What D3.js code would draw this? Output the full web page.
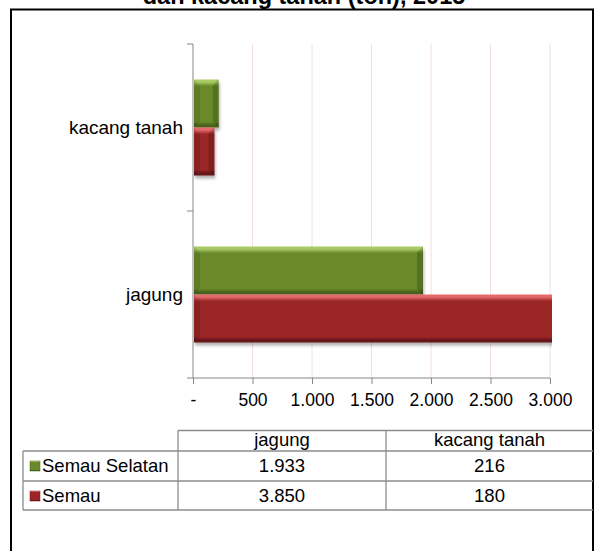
<!DOCTYPE html>
<html>
<head>
<meta charset="utf-8">
<script src="https://cdn.jsdelivr.net/npm/d3@7"></script>
<style>
  body { margin: 0; background: #fff; }
  text { font-family: "Liberation Sans", Arial, sans-serif; fill: #000; }
</style>
</head>
<body>
<div class="container"></div>
<script>
// ----- DATA -----
const categories = ["kacang tanah", "jagung"];      // top to bottom
const seriesNames = ["Semau Selatan", "Semau"];
const semauSelatan = [216, 1933];                   // per category above
const semau = [180, 3850];
const xTicks = [0, 500, 1000, 1500, 2000, 2500, 3000];
const tableCols = ["jagung", "kacang tanah"];
const title = "dan kacang tanah (ton), 2015";

const w = 598, h = 551;
const plot = { left: 193, right: 550, top: 44, bottom: 378 };

const svg = d3.select(".container").append("svg")
  .attr("width", w).attr("height", h);

const defs = svg.append("defs");

// bevel-ish gradients for the bars
const colors = {
  "Semau Selatan": { hi: "#a9cb66", mid: "#6b8a2c", lo: "#48621b" },
  "Semau": { hi: "#e46a6a", mid: "#9b2628", lo: "#661618" }
};
seriesNames.forEach((s, i) => {
  const c = colors[s];
  const g = defs.append("linearGradient").attr("id", "grad" + i)
    .attr("x1", 0).attr("y1", 0).attr("x2", 0).attr("y2", 1);
  g.append("stop").attr("offset", "0%").attr("stop-color", c.hi);
  g.append("stop").attr("offset", "5%").attr("stop-color", c.hi);
  g.append("stop").attr("offset", "14%").attr("stop-color", c.mid);
  g.append("stop").attr("offset", "88%").attr("stop-color", c.mid);
  g.append("stop").attr("offset", "95%").attr("stop-color", c.lo);
  g.append("stop").attr("offset", "100%").attr("stop-color", c.lo);
});

const shadow = defs.append("filter").attr("id", "shadow")
  .attr("x", "-10%").attr("y", "-10%").attr("width", "130%").attr("height", "140%");
shadow.append("feDropShadow").attr("dx", 1).attr("dy", 3).attr("stdDeviation", 1.5)
  .attr("flood-color", "#000").attr("flood-opacity", 0.3);

defs.append("clipPath").attr("id", "plotclip").append("rect")
  .attr("x", plot.left).attr("y", plot.top - 5)
  .attr("width", plot.right - plot.left + 2).attr("height", plot.bottom - plot.top + 10);

// ----- TITLE (cut at top, like the reference) -----
svg.append("text").attr("x", 304).attr("y", 4)
  .attr("text-anchor", "middle")
  .style("font-weight", "bold").style("font-size", "23.5px")
  .text(title);

// ----- OUTER FRAME -----
svg.append("rect").attr("x", 11).attr("y", 9.5)
  .attr("width", 582).attr("height", 600)
  .attr("fill", "none").attr("stroke", "#000").attr("stroke-width", 2);

// ----- SCALES -----
const xScale = d3.scaleLinear().domain([0, 3000]).range([plot.left, plot.right]);
const yScale = d3.scaleBand().domain(categories).range([plot.top, plot.bottom])
  .paddingInner(0.425).paddingOuter(0.2125);
const ySub = d3.scaleBand().domain(seriesNames).range([0, yScale.bandwidth()]);

// ----- GRID -----
svg.append("g").selectAll("line").data(xTicks.slice(1)).enter().append("line")
  .attr("x1", d => xScale(d)).attr("x2", d => xScale(d))
  .attr("y1", plot.top).attr("y2", plot.bottom)
  .attr("stroke", "#f4dede").attr("stroke-width", 1);

// ----- BARS -----
const rows = seriesNames.map((s, i) => ({
  name: s, idx: i,
  values: categories.map((c, j) => ({ cat: c, value: (i === 0 ? semauSelatan : semau)[j] }))
}));

const barG = svg.append("g").attr("clip-path", "url(#plotclip)");
rows.forEach(r => {
  r.values.forEach(d => {
    const x0 = xScale(0) + 1, x1 = xScale(d.value);
    const y0 = yScale(d.cat) + ySub(r.name), bh = ySub.bandwidth();
    const g = barG.append("g");
    g.append("rect").attr("x", x0).attr("y", y0)
      .attr("width", x1 - x0).attr("height", bh)
      .attr("fill", "url(#grad" + r.idx + ")")
      .attr("filter", "url(#shadow)");
    const e = 6;
    // left chamfer
    g.append("path")
      .attr("d", `M${x0},${y0}L${x0 + e},${y0 + e}L${x0 + e},${y0 + bh - e}L${x0},${y0 + bh}Z`)
      .attr("fill", "#000").attr("opacity", 0.1);
    // right chamfer
    g.append("path")
      .attr("d", `M${x1},${y0}L${x1 - e},${y0 + e}L${x1 - e},${y0 + bh - e}L${x1},${y0 + bh}Z`)
      .attr("fill", "#000").attr("opacity", 0.18);
  });
});

// ----- AXES -----
const axisColor = "#868686";
const xAxis = svg.append("g")
  .attr("transform", "translate(0," + plot.bottom + ")")
  .call(d3.axisBottom(xScale).tickValues(xTicks).tickSize(6).tickPadding(10)
    .tickFormat(d => d === 0 ? "-" : d3.format(",")(d).replace(/,/g, ".")));
xAxis.select(".domain").attr("stroke", axisColor).attr("d", `M${plot.left},0H${plot.right}`);
xAxis.selectAll("line").attr("stroke", axisColor);
xAxis.selectAll("text").style("font-size", "17.5px").attr("fill", "#000")
  .attr("font-family", "Liberation Sans, Arial, sans-serif");

const yAxis = svg.append("g").attr("transform", "translate(" + plot.left + ",0)");
yAxis.append("line").attr("x1", 0).attr("x2", 0)
  .attr("y1", plot.top).attr("y2", plot.bottom).attr("stroke", axisColor);
const yEdges = [plot.top, plot.top + yScale.step(), plot.bottom];
yAxis.selectAll(".tk").data(yEdges).enter().append("line")
  .attr("x1", -6).attr("x2", 0).attr("y1", d => d).attr("y2", d => d)
  .attr("stroke", axisColor);
yAxis.selectAll(".lbl").data(categories).enter().append("text")
  .attr("x", -10).attr("y", d => yScale(d) + yScale.bandwidth() / 2 + 6)
  .attr("text-anchor", "end").style("font-size", "19px").text(d => d);

// ----- DATA TABLE -----
const tbl = { labelX: 23, c0: 178, c1: 386, c2: 593, head: 430.5, r1: 451, r2: 481, r3: 510 };
const tg = svg.append("g").attr("stroke", "#8c8c8c").attr("stroke-width", 1.3);
tg.append("line").attr("x1", tbl.c0).attr("x2", tbl.c2).attr("y1", tbl.head).attr("y2", tbl.head);
[tbl.r1, tbl.r2, tbl.r3].forEach(y =>
  tg.append("line").attr("x1", tbl.labelX).attr("x2", tbl.c2).attr("y1", y).attr("y2", y));
tg.append("line").attr("x1", tbl.labelX).attr("x2", tbl.labelX).attr("y1", tbl.r1).attr("y2", tbl.r3);
[tbl.c0, tbl.c1].forEach(x =>
  tg.append("line").attr("x1", x).attr("x2", x).attr("y1", tbl.head).attr("y2", tbl.r3));

const colCenters = [(tbl.c0 + tbl.c1) / 2, (tbl.c1 + tbl.c2) / 2];
svg.selectAll(".th").data(tableCols).enter().append("text")
  .attr("x", (d, i) => colCenters[i]).attr("y", tbl.r1 - 5)
  .attr("text-anchor", "middle").style("font-size", "18.5px").text(d => d);

const fmt = v => d3.format(",")(v).replace(/,/g, ".");
const rowTop = [tbl.r1, tbl.r2];
// table columns are jagung, kacang tanah
const colCat = tableCols.map(c => categories.indexOf(c));
rows.forEach((r, i) => {
  const yb = rowTop[i] + 21;
  svg.append("rect").attr("x", 30).attr("y", rowTop[i] + 10).attr("width", 10).attr("height", 10)
    .attr("fill", "url(#grad" + r.idx + ")").attr("stroke", colors[r.name].lo).attr("stroke-width", 0.5);
  svg.append("text").attr("x", 42).attr("y", yb).style("font-size", "18.5px").text(r.name);
  colCat.forEach((ci, k) => {
    svg.append("text").attr("x", colCenters[k]).attr("y", yb)
      .attr("text-anchor", "middle").style("font-size", "18.5px")
      .text(fmt(r.values[ci].value));
  });
});
</script>
</body>
</html>
